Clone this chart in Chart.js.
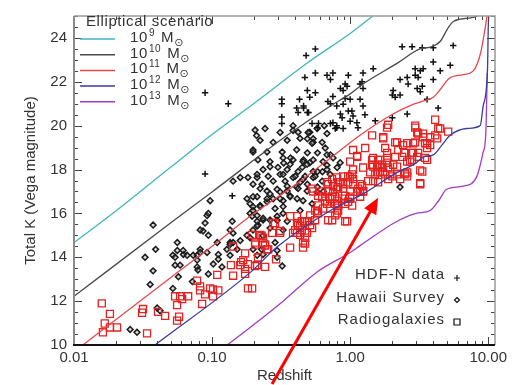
<!DOCTYPE html>
<html>
<head>
<meta charset="utf-8">
<script src="https://cdn.jsdelivr.net/npm/chart.js@4.4.0/dist/chart.umd.min.js"></script>
<style>
  body { margin: 0; background: #fff; }
  canvas { display: block; }
</style>
</head>
<body>
<canvas id="kz" width="518" height="385"></canvas>
<script>
// axis ticks
const xTickValues = [0.01, 0.1, 1, 10];
const xTickLabels = ['0.01', '0.10', '1.00', '10.00'];
const yTickValues = [10, 12, 14, 16, 18, 20, 22, 24];
const yTickLabels = ['10', '12', '14', '16', '18', '20', '22', '24'];

// model tracks [redshift, K]
const curve9 = [[0.01,14.67],[0.02,16.1],[0.05,18.1],[0.1,19.6],[0.2,21.0],[0.5,22.9],[1.0,24.2],[1.6,25.2]];
const curve10 = [[0.01,12.22],[0.05,15.56],[0.1,16.98],[0.35,19.56],[0.72,20.9],[1.0,21.45],[1.24,21.9],[2.2,22.85],[3.2,23.5],[3.8,23.58],[4.5,23.85],[5.1,24.44],[5.6,24.75],[7.1,24.9],[8.3,25.0],[10,25.6]];
const curve11 = [[0.0116,10],[0.05,13.07],[0.1,14.5],[0.1885,15.87],[0.4,17.3],[0.72,18.53],[1.2,19.6],[2.0,20.5],[2.8,20.95],[3.5,21.15],[4.0,21.3],[4.5,21.65],[5.2,22.15],[6.5,22.32],[7.8,22.5],[8.8,23.3],[9.3,24.1],[9.8,25.0],[10.2,26]];
const curve12 = [[0.0386,10],[0.1885,13.3],[0.3,14.5],[0.72,16.13],[1.25,16.9],[2.1,17.8],[3.0,18.3],[3.4,18.58],[4.0,18.67],[4.6,19.1],[5.3,19.56],[7.0,19.87],[8.75,20.0],[9.2,20.9],[9.9,22.7],[10.0,24.4],[10.2,25.5]];
const curve13 = [[0.1285,10],[0.1885,10.8],[0.327,12.0],[0.577,13.33],[1.0,14.22],[1.18,14.53],[2.19,15.64],[3.0,16.0],[3.8,16.13],[4.4,16.6],[5.0,17.1],[6.6,17.24],[8.3,17.7],[9.2,18.8],[9.6,19.6],[9.85,22.4]];

const massExponents = ['9', '10', '11', '12', '13'];
const massColors = ['#3fb6c0', '#4a4a4a', '#e8474c', '#3b3b9e', '#a23bc0'];

// HDF-N data (plus)
const hdfPoints = [[0.089,21.5],[0.131,21.0],[0.089,17.8],[0.14,16.8],[0.48,23.2],[0.56,23.5],[0.47,22.2],[0.56,22.4],[0.68,22.3],[0.32,21.2],[0.32,21.0],[0.49,21.6],[0.51,21.3],[0.56,21.5],[0.41,20.8],[0.46,20.8],[0.49,20.6],[0.32,20.4],[0.32,20.1],[0.72,22.1],[0.75,22.4],[0.97,22.3],[1.24,22.4],[1.47,22.6],[2.38,23.6],[2.81,23.6],[3.33,23.55],[4.0,23.55],[5.58,23.65],[4.0,22.9],[2.96,22.6],[3.22,22.5],[3.38,22.6],[2.96,22.3],[3.11,22.2],[2.59,22.2],[2.30,22.1],[2.63,21.9],[4.49,22.5],[5.31,22.75],[4.0,22.1],[3.33,21.8],[3.06,21.7],[3.22,21.55],[2.05,21.6],[2.12,21.3],[2.30,21.4],[2.02,21.4],[1.22,22.0],[1.24,21.7],[0.92,21.9],[0.89,21.6],[0.92,21.24],[0.89,20.98],[1.0,21.2],[0.75,21.33],[0.80,20.9],[1.18,21.2],[1.24,20.9],[0.97,20.67],[1.03,20.67],[1.05,20.44],[0.85,20.53],[0.875,20.36],[0.75,20.13],[0.80,20.0],[0.78,19.87],[1.12,20.13],[1.52,20.22],[2.02,20.36],[2.59,20.53],[4.34,20.8],[3.61,21.2],[0.43,21.2],[0.46,20.9],[0.85,21.7],[0.95,21.8],[0.69,21.1],[0.72,21.0],[1.0,20.2],[0.59,20.1],[0.53,20.1],[0.58,19.9],[0.72,20.1],[0.42,20.6],[0.50,20.6],[0.80,19.9],[0.89,19.87],[1.14,19.9],[1.28,20.5],[1.18,21.9]];

// Hawaii Survey (diamond)
const hawaiiPoints = [[0.205,19.8],[0.21,19.55],[0.386,20.0],[0.42,19.7],[0.65,20.0],[0.68,19.64],[0.51,19.7],[0.54,19.4],[0.49,19.4],[0.54,19.24],[0.66,18.98],[0.58,18.76],[0.49,18.76],[0.41,18.9],[0.46,18.44],[0.51,18.31],[0.45,18.1],[0.54,17.91],[0.63,17.9],[0.68,18.2],[0.72,18.67],[0.37,18.53],[0.33,18.3],[0.30,18.1],[0.263,18.13],[0.234,18.0],[0.35,18.0],[0.311,17.78],[0.386,17.64],[0.456,17.56],[0.434,17.42],[0.49,17.33],[0.58,17.2],[0.64,17.0],[0.54,17.64],[0.41,17.2],[0.35,17.24],[0.296,17.1],[0.263,16.89],[0.311,16.98],[0.3675,16.8],[0.413,16.67],[0.327,16.58],[0.277,16.67],[0.25,16.53],[0.223,16.36],[0.198,16.3],[0.1885,16.0],[0.212,15.9],[0.234,15.7],[0.263,15.7],[0.296,15.87],[0.327,16.0],[0.215,15.47],[0.263,15.33],[0.198,15.24],[0.179,15.0],[0.16,14.76],[0.135,14.67],[0.142,15.1],[0.14,15.64],[0.0968,16.58],[0.092,15.9],[0.089,15.56],[0.086,15.2],[0.094,15.0],[0.056,14.67],[0.16,17.64],[0.182,17.64],[0.142,17.47],[0.212,17.64],[0.23,17.33],[0.198,17.33],[0.25,17.02],[0.212,16.76],[0.1885,16.44],[0.277,17.47],[0.338,17.47],
  [0.0374,15.47],[0.039,14.36],[0.094,16.0],[0.082,15.24],[0.135,15.24],[0.198,18.8],[0.179,16.67],[0.198,16.13],[0.212,15.64],[0.142,14.67],[0.152,14.36],[0.109,14.67],[0.082,14.36],[0.062,14.13],[0.056,14.31],[0.0327,14.0],[0.078,14.09],[0.135,14.09],
  [0.0374,13.38],[0.0356,12.76],[0.0255,10.71],[0.0286,10.58],[0.052,14.09],[0.054,14.0],[0.0617,14.31],[0.066,14.09],[0.054,13.64],[0.0587,13.64],[0.073,14.09],[0.078,13.87],[0.082,14.22],[0.078,13.56],[0.079,13.42],[0.057,13.11],[0.052,12.58],[0.072,12.89],[0.094,13.24],[0.092,14.22],[0.111,14.13],[0.111,13.91],[0.128,14.36],[0.135,14.58],[0.118,13.56],[0.040,11.69],[0.042,11.56],[0.102,13.69],
  [0.322,13.6],[0.296,14.0],[0.212,14.09],[0.198,14.36],[0.228,14.36],
  [0.242,19.87],[0.311,19.69],[0.386,19.78],[0.496,19.69],[0.577,19.87],[0.223,19.33],[0.277,19.24],[0.35,19.33],[0.434,19.42],[0.53,19.2],[0.627,19.24],[0.198,18.89],[0.25,18.8],[0.322,18.8],[0.68,18.67],[0.215,18.44],[0.263,18.36],[0.327,18.53],[0.386,18.44],[0.456,18.36],[0.54,18.44],[0.637,18.36],[0.753,18.53],[0.847,18.31],[0.3675,18.24],[0.42,17.91],[0.488,18.24],[0.58,17.91],[0.68,18.0],[0.805,18.09],[0.212,17.78],[0.255,17.69],[0.327,17.78],[0.40,17.69],[0.472,17.69],[0.558,17.69],[0.627,17.47],[0.7165,17.78],[0.223,17.13],[0.35,17.02],[0.42,17.13],[0.488,17.02],[0.577,16.98],[0.198,16.76],[0.25,16.67],[0.311,16.67],[0.3675,16.76],[0.456,16.58],[0.53,16.44],[0.223,16.31],[0.286,16.22],[0.327,16.31],[0.434,16.13],[0.195,15.87],[0.234,15.78],[0.296,15.69],[0.35,15.64],[0.212,15.42],[0.327,15.24],[0.1885,14.89],[0.234,14.98],[0.286,14.67],[0.234,14.13],[0.296,14.31],[2.30,17.2]];

// Radiogalaxies (square)
const radioPoints = [[0.0159,11.9],[0.0182,11.42],[0.0167,10.98],[0.0162,10.58],[0.0182,10.8],[0.0205,10.8],[0.0311,11.47],[0.0316,11.64],[0.0406,11.51],[0.0457,11.33],[0.0338,10.53],[0.054,12.22],[0.0587,12.22],[0.0607,12.09],[0.0671,12.22],[0.0558,11.82],[0.0577,11.29],[0.0558,11.11],[0.0847,11.87],[0.0779,12.93],[0.0819,12.67],[0.0819,12.49],[0.089,12.31],[0.0968,12.58],[0.1017,12.53],[0.111,12.49],[0.1017,12.22],[0.109,13.2],[0.137,13.64],[0.142,13.16],[0.142,14.49],[0.162,13.78],[0.1735,13.24],[0.1735,13.47],[0.1735,14.18],[0.182,12.58],[0.16,13.64],[0.168,13.87],[0.182,13.69],[0.205,13.6],
  [0.3675,14.44],[0.456,14.44],[0.472,14.62],[0.242,13.56],[0.291,13.91],[0.215,14.0],[0.212,13.64],[0.195,12.58],[0.255,14.36],[0.242,14.53],
  [0.539,17.0],[0.693,17.33],[0.627,16.76],[0.659,16.58],[0.682,16.44],[0.586,16.36],[0.558,16.13],[0.586,16.0],[0.5132,15.91],[0.413,15.87],[0.447,15.64],[0.3675,15.87],[0.488,15.64],[0.5132,15.47],[0.42,15.47],[0.40,15.24],[0.447,15.24],[0.53,15.33],[0.386,15.11],[0.434,15.02],[0.472,15.11],[0.456,14.67],[0.311,15.11],[0.272,15.11],[0.228,14.98],[0.195,15.02],[0.205,14.58],[0.242,14.58],[0.286,15.56],
  [1.85,19.91],[2.96,19.91],[4.49,19.87],[5.13,19.73],[3.06,19.69],[3.38,19.64],[1.443,19.56],[1.734,19.42],[2.19,19.24],[2.42,19.11],[2.86,19.2],[3.61,19.2],[3.80,19.11],[1.285,18.98],[1.794,18.98],[1.854,18.76],[2.46,18.76],[2.86,18.76],[1.124,18.58],[1.467,18.53],[1.595,18.44],[1.854,18.53],[2.12,18.58],[3.06,18.58],[3.49,18.53],[3.61,18.44],[1.0,18.36],[1.443,18.22],[1.569,18.13],[1.706,18.22],[1.854,18.31],[2.19,18.13],[2.59,18.36],[2.81,18.44],[3.33,17.91],[1.242,18.09],[1.396,17.87],[1.595,17.87],[1.734,17.91],[1.949,17.78],[2.19,17.78],[2.50,17.78],[2.59,17.87],[3.216,17.38],[1.595,17.42],[0.805,17.64],[0.847,17.42],[0.89,17.69],[1.0,17.64],[1.051,17.56],[0.753,17.24],[0.819,17.2],[0.89,17.33],[0.968,17.42],[1.051,17.33],[1.182,17.33],[1.242,17.0],[1.182,17.0],[0.682,17.42],[0.74,17.56],[0.53,17.13],[0.627,17.0],[0.693,17.02],[0.586,16.8],[0.659,16.76],[0.7165,16.67],[0.779,16.76],[0.875,16.67],[1.0,16.67],[1.124,16.98],[1.242,17.02],[0.779,16.44],[0.819,16.36],[0.92,16.44],[0.968,16.53],[0.7165,16.22],[0.577,16.09],[0.637,16.22],[0.805,16.0],[0.693,15.69],[0.951,15.64],[0.558,15.69],[0.472,15.64],[0.413,15.56],[0.434,15.42],[0.488,15.11],[0.413,15.11],[0.277,15.56],[0.311,15.2],[0.223,15.02],[0.234,14.89],[0.472,14.89],[0.234,14.67],[0.25,14.36],[0.205,14.67],
  [1.734,19.47],[2.12,19.24],[2.59,19.2],[2.96,19.24],[3.49,19.2],[4.27,19.42],[3.61,18.98],[3.80,19.47],[2.23,18.89],[2.81,18.76],[3.11,18.76],[2.38,18.58],[2.721,18.36],[1.051,18.89],[1.124,18.62],[1.443,18.44],[1.65,18.44],[1.467,18.13],[1.595,18.22],[1.706,18.09],[1.886,18.09],[2.05,18.22],[1.517,17.78],[1.65,17.87],[1.794,17.78],[2.50,17.82],[2.59,17.69],[3.216,17.96],[2.02,17.69],[1.351,17.47],[1.467,17.47],[2.303,17.56],[1.886,17.56],[3.216,17.33],[1.051,18.0],[1.034,17.78],[0.968,17.69],[0.819,17.42],[0.805,17.13],[0.89,17.13],[1.0,17.0],[1.143,17.13],[1.222,17.24],[0.92,16.8],[1.0,16.76],[1.182,16.76],[0.753,16.98],[0.741,16.76],[0.805,16.58],[1.034,16.36],[0.805,16.36],[0.819,16.13],[0.779,15.91],[0.92,15.64],[0.741,15.69],
  [1.886,20.04],[2.96,20.0],[3.11,19.64],[4.13,20.27],[4.34,19.87],[4.13,19.56],[3.38,19.47]];

// red arrow annotation [redshift, K]
const arrowTail = [0.272, 8.22];
const arrowTip = [1.595, 16.71];

const toXY = pts => pts.map(p => ({ x: p[0], y: p[1] }));
const textColor = '#333';
const fontFamily = "'Liberation Sans', Arial, sans-serif";

Chart.defaults.font.family = fontFamily;
Chart.defaults.color = textColor;

const curveSet = (pts, color) => ({
  data: toXY(pts),
  showLine: true,
  borderColor: color,
  borderWidth: 1.3,
  pointRadius: 0,
  cubicInterpolationMode: 'monotone',
  order: 0,
});

// ticks, frame, legends and the arrow
const decorations = {
  id: 'decorations',
  afterDraw(chart) {
    const { ctx, chartArea: a, scales: { x, y } } = chart;
    ctx.save();

    // inward ticks
    ctx.strokeStyle = '#444';
    ctx.lineWidth = 1;
    ctx.beginPath();
    for (let v = 10; v <= 25; v += 0.5) {
      const py = Math.round(y.getPixelForValue(v)) + 0.5;
      const len = v % 2 === 0 ? 8 : 4;
      ctx.moveTo(a.left, py); ctx.lineTo(a.left + len, py);
      ctx.moveTo(a.right, py); ctx.lineTo(a.right - len, py);
    }
    xTickValues.forEach(dec => {
      for (let m = 1; m <= 9; m++) {
        const v = dec * m;
        if (v > x.max) break;
        const px = Math.round(x.getPixelForValue(v)) + 0.5;
        const len = m === 1 ? 8 : 4;
        ctx.moveTo(px, a.bottom); ctx.lineTo(px, a.bottom - len);
        ctx.moveTo(px, a.top); ctx.lineTo(px, a.top + len);
      }
    });
    ctx.stroke();

    // frame
    ctx.strokeStyle = '#999';
    ctx.lineWidth = 1.5;
    ctx.beginPath();
    ctx.moveTo(a.left, a.top); ctx.lineTo(a.right, a.top); ctx.lineTo(a.right, a.bottom);
    ctx.stroke();
    ctx.strokeStyle = '#8a8a8a';
    ctx.lineWidth = 2;
    ctx.beginPath();
    ctx.moveTo(a.left, a.top); ctx.lineTo(a.left, a.bottom);
    ctx.stroke();
    ctx.strokeStyle = '#111';
    ctx.beginPath();
    ctx.moveTo(a.left - 1, a.bottom); ctx.lineTo(a.right, a.bottom);
    ctx.stroke();

    // model legend
    ctx.fillStyle = textColor;
    ctx.letterSpacing = '0.6px';
    ctx.font = '15px ' + fontFamily;
    ctx.textBaseline = 'alphabetic';
    ctx.textAlign = 'left';
    ctx.fillText('Elliptical scenario', 86, 26);
    massExponents.forEach((e, i) => {
      const ly = 39 + i * 15.7;
      ctx.strokeStyle = massColors[i];
      ctx.lineWidth = 1.5;
      ctx.beginPath();
      ctx.moveTo(80, ly); ctx.lineTo(115, ly);
      ctx.stroke();
      ctx.font = '15px ' + fontFamily;
      ctx.fillText('10', 130, ly + 3);
      let cx = 130 + ctx.measureText('10').width + 1;
      ctx.font = '10px ' + fontFamily;
      ctx.fillText(e, cx, ly - 3);
      cx += ctx.measureText(e).width + 6;
      ctx.font = '15px ' + fontFamily;
      ctx.fillText('M', cx, ly + 3);
      cx += ctx.measureText('M').width;
      ctx.font = '11px DejaVu Sans';
      ctx.fillText('\u2299', cx, ly + 7);
    });

    // data legend
    ctx.font = '15px ' + fontFamily;
    ctx.letterSpacing = '1px';
    ctx.textAlign = 'right';
    ctx.fillText('HDF-N data', 445, 279);
    ctx.fillText('Hawaii Survey', 445, 302);
    ctx.fillText('Radiogalaxies', 445, 324);
    ctx.strokeStyle = '#111';
    ctx.lineWidth = 1.2;
    ctx.beginPath();
    ctx.moveTo(454, 278); ctx.lineTo(460, 278);
    ctx.moveTo(457, 275); ctx.lineTo(457, 281);
    ctx.moveTo(457, 297.5); ctx.lineTo(459.5, 300); ctx.lineTo(457, 302.5); ctx.lineTo(454.5, 300); ctx.closePath();
    ctx.rect(454, 319, 6, 6);
    ctx.stroke();

    // arrow
    const p0 = { x: x.getPixelForValue(arrowTail[0]), y: y.getPixelForValue(arrowTail[1]) };
    const p1 = { x: x.getPixelForValue(arrowTip[0]), y: y.getPixelForValue(arrowTip[1]) };
    const ang = Math.atan2(p1.y - p0.y, p1.x - p0.x);
    const ux = Math.cos(ang), uy = Math.sin(ang);
    ctx.strokeStyle = '#ff0000';
    ctx.fillStyle = '#ff0000';
    ctx.lineWidth = 3;
    ctx.beginPath();
    ctx.moveTo(p0.x, p0.y);
    ctx.lineTo(p1.x - ux * 12, p1.y - uy * 12);
    ctx.stroke();
    ctx.beginPath();
    ctx.moveTo(p1.x, p1.y);
    ctx.lineTo(p1.x - ux * 16 - uy * 7, p1.y - uy * 16 + ux * 7);
    ctx.lineTo(p1.x - ux * 16 + uy * 7, p1.y - uy * 16 - ux * 7);
    ctx.closePath();
    ctx.fill();

    ctx.restore();
  }
};

new Chart(document.getElementById('kz'), {
  type: 'scatter',
  data: {
    datasets: [
      curveSet(curve9, massColors[0]),
      curveSet(curve10, massColors[1]),
      curveSet(curve11, massColors[2]),
      curveSet(curve12, massColors[3]),
      curveSet(curve13, massColors[4]),
      {
        data: toXY(radioPoints),
        pointStyle: 'rect',
        pointRadius: 5,
        borderColor: '#e32222',
        borderWidth: 1.3,
        backgroundColor: 'rgba(0,0,0,0)',
        order: 1,
      },
      {
        data: toXY(hdfPoints),
        pointStyle: 'cross',
        pointRadius: 3.2,
        borderColor: '#111',
        borderWidth: 1.5,
        order: 2,
      },
      {
        data: toXY(hawaiiPoints),
        pointStyle: 'rectRot',
        pointRadius: 2.9,
        borderColor: '#1a1a1a',
        borderWidth: 1.5,
        backgroundColor: 'rgba(140,140,140,0.35)',
        order: 3,
      },
    ],
  },
  options: {
    responsive: false,
    animation: false,
    devicePixelRatio: 1,
    layout: { padding: { top: 8, right: 23, left: 0, bottom: 0 } },
    plugins: { legend: { display: false }, tooltip: { enabled: false } },
    scales: {
      x: {
        type: 'logarithmic',
        min: 0.01,
        max: 11.2,
        grid: { display: false, drawTicks: false },
        border: { display: false },
        afterBuildTicks: s => { s.ticks = xTickValues.map(v => ({ value: v })); },
        afterFit: s => { s.height = 40; },
        ticks: {
          autoSkip: false,
          maxRotation: 0,
          padding: 4,
          font: { size: 15 },
          color: textColor,
          callback: (v, i) => xTickLabels[i],
        },
        title: { display: true, text: 'Redshift', font: { size: 15 }, color: textColor, padding: { top: 0, bottom: 0 } },
      },
      y: {
        min: 10,
        max: 25,
        grid: { display: false, drawTicks: false },
        border: { display: false },
        afterBuildTicks: s => { s.ticks = yTickValues.map(v => ({ value: v })); },
        afterFit: s => { s.width = 74; },
        ticks: {
          padding: 7,
          font: { size: 15 },
          color: textColor,
          callback: (v, i) => yTickLabels[i],
        },
        title: { display: true, text: 'Total K (Vega magnitude)', font: { size: 15 }, color: textColor, padding: { top: 22, bottom: 0 } },
      },
    },
  },
  plugins: [decorations],
});
</script>
</body>
</html>
